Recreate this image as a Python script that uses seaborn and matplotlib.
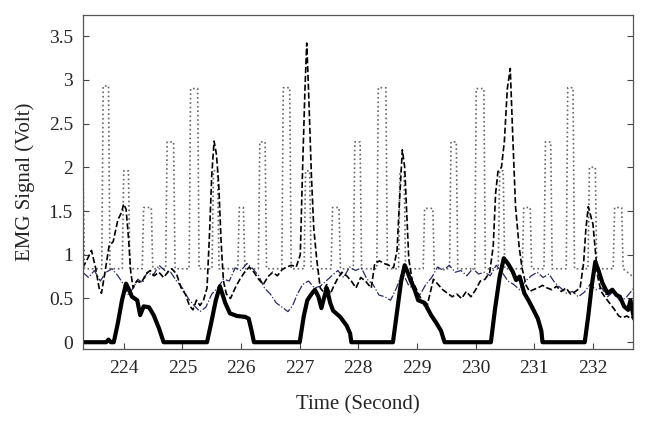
import matplotlib
matplotlib.use("Agg")
import numpy as np
import pandas as pd
import matplotlib.pyplot as plt
import seaborn as sns

# Thick solid envelope (time in s, value in V)
envelope_time = [223.30, 223.70, 223.74, 223.78, 223.83, 223.90, 223.97, 224.04, 224.09,
                 224.14, 224.23, 224.28, 224.34, 224.43, 224.51, 224.60, 224.68,
                 225.42, 225.50, 225.57, 225.64, 225.73, 225.81, 225.93, 226.07, 226.13,
                 226.18, 226.22, 227.00, 227.07, 227.13, 227.20, 227.26, 227.32, 227.37,
                 227.42, 227.46, 227.52, 227.57, 227.69, 227.80, 227.86, 227.88,
                 228.59, 228.66, 228.73, 228.79, 228.84, 228.89, 228.96, 229.02, 229.13,
                 229.24, 229.33, 229.41, 229.47, 230.26, 230.33, 230.41, 230.48, 230.55,
                 230.63, 230.69, 230.75, 230.83, 230.90, 230.97, 231.06, 231.12, 231.14,
                 231.86, 231.92, 231.98, 232.04, 232.10, 232.16, 232.25, 232.33, 232.40,
                 232.46, 232.53, 232.60, 232.64, 232.70]
envelope_value = [0, 0, 0.03, 0, 0, 0.22, 0.48, 0.67, 0.60,
                  0.52, 0.48, 0.31, 0.41, 0.40, 0.31, 0.16, 0,
                  0, 0.25, 0.48, 0.64, 0.45, 0.33, 0.30, 0.29, 0.27,
                  0.13, 0, 0, 0.30, 0.48, 0.55, 0.60, 0.52, 0.39,
                  0.52, 0.62, 0.45, 0.36, 0.29, 0.19, 0.10, 0,
                  0, 0.35, 0.70, 0.88, 0.80, 0.71, 0.60, 0.48, 0.45,
                  0.31, 0.22, 0.13, 0, 0, 0.38, 0.75, 0.96, 0.90,
                  0.81, 0.71, 0.75, 0.56, 0.48, 0.39, 0.27, 0.13, 0,
                  0, 0.30, 0.65, 0.92, 0.81, 0.68, 0.56, 0.60, 0.54,
                  0.52, 0.41, 0.37, 0.48, 0.27]

# Dashed channel
dashed_time = [223.30, 223.38, 223.45, 223.52, 223.58, 223.62, 223.68, 223.75, 223.82, 223.90,
               223.96, 224.00, 224.04, 224.08, 224.12, 224.16, 224.22, 224.30, 224.38, 224.45,
               224.52, 224.60, 224.68, 224.75, 224.82, 224.90, 224.98, 225.05, 225.12, 225.18,
               225.24, 225.30, 225.36, 225.42, 225.46, 225.50, 225.54, 225.58, 225.62, 225.66,
               225.70, 225.75, 225.82, 225.90, 225.98, 226.06, 226.14, 226.22, 226.30, 226.38,
               226.46, 226.54, 226.62, 226.70, 226.78, 226.86, 226.94, 227.01, 227.05, 227.09,
               227.12, 227.15, 227.20, 227.24, 227.29, 227.35, 227.40, 227.46, 227.52, 227.58,
               227.64, 227.72, 227.80, 227.88, 227.96, 228.04, 228.12, 228.22, 228.28, 228.36,
               228.44, 228.52, 228.60, 228.66, 228.70, 228.75, 228.79, 228.83, 228.86, 228.92,
               228.98, 229.05, 229.10, 229.16, 229.22, 229.28, 229.36, 229.44, 229.52, 229.60,
               229.68, 229.76, 229.84, 229.92, 230.00, 230.08, 230.16, 230.24, 230.30, 230.34,
               230.38, 230.44, 230.49, 230.54, 230.59, 230.63, 230.68, 230.74, 230.79, 230.86,
               230.92, 230.98, 231.06, 231.14, 231.22, 231.30, 231.38, 231.46, 231.54, 231.62,
               231.70, 231.78, 231.84, 231.88, 231.92, 231.96, 232.00, 232.04, 232.08, 232.14,
               232.20, 232.28, 232.36, 232.44, 232.50, 232.58, 232.64, 232.70]
dashed_value = [0.85, 0.95, 1.05, 0.85, 0.62, 0.56, 0.80, 1.10, 1.15, 1.40,
                1.48, 1.58, 1.52, 1.20, 0.80, 0.62, 0.70, 0.68, 0.78, 0.82,
                0.76, 0.80, 0.74, 0.80, 0.84, 0.78, 0.62, 0.55, 0.42, 0.37,
                0.48, 0.42, 0.48, 0.62, 1.20, 1.90, 2.30, 2.15, 1.80, 1.15,
                0.70, 0.55, 0.50, 0.62, 0.72, 0.80, 0.86, 0.80, 0.72, 0.66,
                0.75, 0.80, 0.76, 0.83, 0.86, 0.88, 0.86, 1.00, 2.00, 2.90,
                3.42, 2.90, 1.90, 1.30, 0.95, 0.62, 0.58, 0.66, 0.55, 0.64,
                0.72, 0.80, 0.76, 0.70, 0.62, 0.74, 0.70, 0.62, 0.90, 0.93,
                0.90, 0.88, 0.85, 1.05, 1.60, 2.20, 2.00, 1.40, 0.95, 0.70,
                0.62, 0.52, 0.45, 0.38, 0.55, 0.72, 0.66, 0.60, 0.56, 0.52,
                0.55, 0.50, 0.58, 0.52, 0.60, 0.70, 0.72, 0.80, 1.10, 1.70,
                1.95, 2.00, 2.30, 2.90, 3.13, 2.40, 1.55, 1.10, 0.85, 0.65,
                0.58, 0.60, 0.62, 0.65, 0.62, 0.60, 0.64, 0.58, 0.62, 0.55,
                0.58, 0.62, 0.90, 1.30, 1.55, 1.45, 1.35, 1.05, 0.75, 0.58,
                0.52, 0.45, 0.38, 0.30, 0.28, 0.30, 0.27, 0.30]

# Dash-dot channel
dashdot_time = [223.30, 223.40, 223.50, 223.60, 223.70, 223.80, 223.90, 224.00, 224.08, 224.16,
                224.24, 224.32, 224.40, 224.50, 224.60, 224.70, 224.80, 224.90, 225.00, 225.10,
                225.20, 225.30, 225.40, 225.50, 225.60, 225.70, 225.80, 225.90, 226.00, 226.10,
                226.20, 226.30, 226.40, 226.50, 226.60, 226.70, 226.80, 226.88, 226.96, 227.05,
                227.15, 227.25, 227.35, 227.45, 227.55, 227.65, 227.75, 227.85, 227.95, 228.05,
                228.15, 228.25, 228.35, 228.45, 228.55, 228.65, 228.75, 228.85, 228.95, 229.05,
                229.15, 229.25, 229.35, 229.45, 229.55, 229.65, 229.75, 229.85, 229.95, 230.05,
                230.15, 230.25, 230.35, 230.45, 230.55, 230.65, 230.75, 230.85, 230.95, 231.05,
                231.15, 231.25, 231.35, 231.45, 231.55, 231.65, 231.75, 231.85, 231.95, 232.05,
                232.15, 232.25, 232.35, 232.45, 232.55, 232.65, 232.70]
dashdot_value = [0.80, 0.74, 0.82, 0.70, 0.80, 0.84, 0.76, 0.66, 0.54, 0.62,
                 0.72, 0.68, 0.80, 0.76, 0.88, 0.82, 0.80, 0.70, 0.62, 0.50,
                 0.42, 0.35, 0.40, 0.55, 0.62, 0.72, 0.70, 0.85, 0.82, 0.90,
                 0.84, 0.76, 0.62, 0.55, 0.45, 0.40, 0.35, 0.42, 0.55, 0.66,
                 0.70, 0.62, 0.64, 0.70, 0.76, 0.82, 0.74, 0.86, 0.82, 0.85,
                 0.72, 0.66, 0.54, 0.52, 0.48, 0.62, 0.80, 0.66, 0.60, 0.54,
                 0.66, 0.74, 0.86, 0.82, 0.88, 0.80, 0.82, 0.76, 0.84, 0.78,
                 0.80, 0.76, 0.88, 0.80, 0.70, 0.66, 0.60, 0.70, 0.76, 0.80,
                 0.74, 0.78, 0.68, 0.62, 0.56, 0.58, 0.52, 0.57, 0.66, 0.60,
                 0.62, 0.52, 0.58, 0.48, 0.50, 0.58, 0.62]

# Dotted channel: flat baseline with rectangular bursts
dotted_base = 0.84
burst_start = [223.64, 223.99, 224.33, 224.73, 225.13, 225.52, 225.96, 226.31, 226.71, 227.09,
               227.55, 227.93, 228.33, 228.70, 229.12, 229.57, 230.00, 230.40, 230.81, 231.18,
               231.56, 231.93, 232.36]
burst_end = [223.75, 224.09, 224.48, 224.86, 225.27, 225.61, 226.05, 226.42, 226.84, 227.18,
             227.68, 228.04, 228.48, 228.79, 229.28, 229.68, 230.15, 230.48, 230.94, 231.29,
             231.67, 232.05, 232.50]
burst_height = [2.93, 1.96, 1.54, 2.29, 2.90, 1.96, 1.54, 2.29, 2.91, 1.96,
                1.54, 2.29, 2.91, 1.96, 1.53, 2.29, 2.90, 1.96, 1.54, 2.29,
                2.91, 2.00, 1.54]
dotted_start_value = 2.27

sns.set_theme(style="white")
plt.rcParams['font.family'] = ['Liberation Serif', 'DejaVu Serif']

# dotted polyline built from the burst table
d_t = [223.30, 223.33]
d_v = [dotted_start_value, dotted_base]
for s, e, h in zip(burst_start, burst_end, burst_height):
    d_t += [s - 0.015, s + 0.01, e - 0.01, e + 0.015]
    d_v += [dotted_base, h, h, dotted_base]
d_t.append(232.70)
d_v.append(dotted_base - 0.1)

fig = plt.figure(figsize=(6.48, 4.24), dpi=100)
ax = fig.add_axes([0.1276, 0.177, 0.849, 0.788])

sns.lineplot(x=d_t, y=d_v, ax=ax, color='#666666', linestyle=':', linewidth=1.2, sort=False)
sns.lineplot(x=dashdot_time, y=dashdot_value, ax=ax, color='#2a2a5a', linestyle='-.',
             linewidth=0.9, sort=False)
sns.lineplot(x=dashed_time, y=dashed_value, ax=ax, color='black', linestyle='--',
             linewidth=1.2, sort=False)
sns.lineplot(x=envelope_time, y=envelope_value, ax=ax, color='black', linestyle='-',
             linewidth=3.0, sort=False)

ax.set_xlim(223.3, 232.68)
ax.set_ylim(-0.077, 3.743)
ax.set_xticks(range(224, 233))
ax.set_yticks([0, 0.5, 1, 1.5, 2, 2.5, 3, 3.5])
ax.set_yticklabels(['0', '0.5', '1', '1.5', '2', '2.5', '3', '3.5'])
ax.tick_params(direction='in', length=4, width=0.8, color='#444444', labelsize=14,
               bottom=True, left=True, right=True, top=False)
ax.tick_params(axis='x', pad=8)
ax.tick_params(axis='y', pad=7)
for sp in ax.spines.values():
    sp.set_color('#555555')
    sp.set_linewidth(0.9)

ax.set_xlabel('Time (Second)', fontsize=15, labelpad=13)
ax.set_ylabel('EMG Signal (Volt)', fontsize=15, labelpad=10)

plt.savefig('out.png', dpi=100)
